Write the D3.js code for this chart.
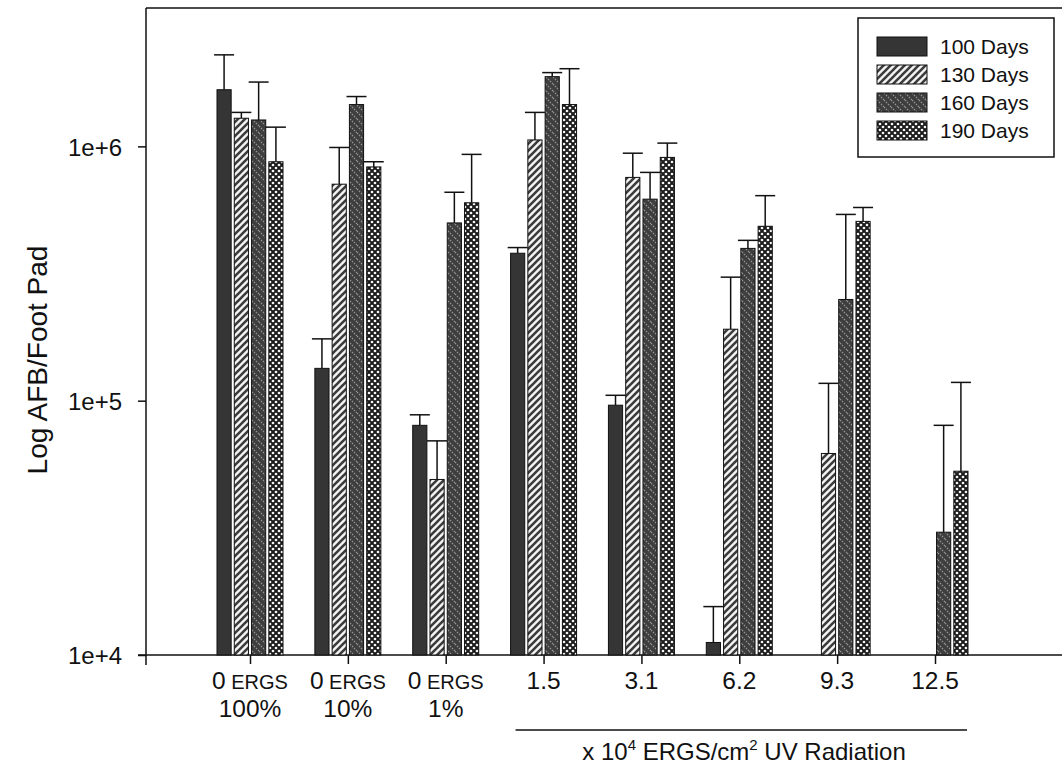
<!DOCTYPE html>
<html>
<head>
<meta charset="utf-8">
<script src="https://cdnjs.cloudflare.com/ajax/libs/d3/7.8.5/d3.min.js"></script>
<style>
    body { margin: 0; background: #fff; }
    svg { display: block; font-family: "Liberation Sans", Arial, sans-serif; }
    .axis path, .axis line { stroke: #111; stroke-width: 1.5px; }
    .axis text { fill: #111; }
</style>
</head>
<body>
<div id="chart"></div>
<script>
// Categories (x axis), two label lines each
var catMain = ["0", "0", "0", "1.5", "3.1", "6.2", "9.3", "12.5"];
var catUnit = ["ERGS", "ERGS", "ERGS", "", "", "", "", ""];
var catSub = ["100%", "10%", "1%", "", "", "", "", ""];
var categories = catMain.map(function(d, i) { return "c" + i; });

var series = ["100 Days", "130 Days", "160 Days", "190 Days"];

// bar heights (AFB / foot pad), null = no bar
var days100 = [1.67e6, 1.34e5, 8.0e4, 3.8e5, 9.6e4, 1.12e4, null, null];
var days130 = [1.29e6, 7.1e5, 4.9e4, 1.06e6, 7.55e5, 1.91e5, 6.2e4, null];
var days160 = [1.27e6, 1.46e6, 5.0e5, 1.88e6, 6.2e5, 3.97e5, 2.5e5, 3.04e4];
var days190 = [8.7e5, 8.3e5, 6.0e5, 1.46e6, 9.05e5, 4.85e5, 5.07e5, 5.28e4];

// tops of the error bars
var err100 = [2.29e6, 1.75e5, 8.8e4, 4.0e5, 1.05e5, 1.55e4, null, null];
var err130 = [1.36e6, 9.9e5, 6.95e4, 1.36e6, 9.4e5, 3.06e5, 1.17e5, null];
var err160 = [1.79e6, 1.57e6, 6.6e5, 1.95e6, 7.9e5, 4.27e5, 5.4e5, 8.0e4];
var err190 = [1.19e6, 8.7e5, 9.3e5, 2.02e6, 1.03e6, 6.4e5, 5.75e5, 1.18e5];

var yTicks = [1e4, 1e5, 1e6];
var yTickLabels = ["1e+4", "1e+5", "1e+6"];

var values = [days100, days130, days160, days190];
var errors = [err100, err130, err160, err190];
var patternIds = ["p100", "p130", "p160", "p190"];

var width = 1062, height = 777;

var svg = d3.select("#chart").append("svg")
    .attr("width", width)
    .attr("height", height);

// Fill patterns
var defs = svg.append("defs");

defs.append("pattern").attr("id", "p100")
    .attr("patternUnits", "userSpaceOnUse").attr("width", 4).attr("height", 4)
    .append("rect").attr("width", 4).attr("height", 4).attr("fill", "#353535");

var p130 = defs.append("pattern").attr("id", "p130")
    .attr("patternUnits", "userSpaceOnUse").attr("width", 7).attr("height", 7);
p130.append("rect").attr("width", 7).attr("height", 7).attr("fill", "#f4f4f4");
p130.append("path")
    .attr("d", "M-2,2 L2,-2 M0,7 L7,0 M5,9 L9,5")
    .attr("stroke", "#3c3c3c").attr("stroke-width", 2.6);

var p160 = defs.append("pattern").attr("id", "p160")
    .attr("patternUnits", "userSpaceOnUse").attr("width", 7).attr("height", 7);
p160.append("rect").attr("width", 7).attr("height", 7).attr("fill", "#3e3e3e");
p160.append("path")
    .attr("d", "M-2,5 L2,9 M0,0 L7,7 M5,-2 L9,2")
    .attr("stroke", "#9a9a9a").attr("stroke-width", 1.1)
    .attr("stroke-dasharray", "1.5,1.3");

var p190 = defs.append("pattern").attr("id", "p190")
    .attr("patternUnits", "userSpaceOnUse").attr("width", 6).attr("height", 6);
p190.append("rect").attr("width", 6).attr("height", 6).attr("fill", "#1c1c1c");
[[0, 0], [6, 0], [0, 6], [6, 6], [3, 3]].forEach(function(c) {
    p190.append("circle").attr("cx", c[0]).attr("cy", c[1]).attr("r", 1.35).attr("fill", "#f4f4f4");
});

// Scales
var y = d3.scaleLog()
    .domain([1e4, 3.5e6])
    .range([655, 8]);

var x = d3.scalePoint()
    .domain(categories)
    .range([250, 935]);

var xInner = d3.scaleBand()
    .domain(series)
    .range([-33, 33])
    .paddingInner(0.18);

// frame: top line
svg.append("line")
    .attr("x1", 146).attr("x2", width)
    .attr("y1", 8).attr("y2", 8)
    .attr("stroke", "#111").attr("stroke-width", 1.5);

// y axis
var yAxis = svg.append("g")
    .attr("class", "axis")
    .attr("transform", "translate(146,0)")
    .call(d3.axisLeft(y)
        .tickValues(yTicks)
        .tickFormat(function(d, i) { return yTickLabels[i]; })
        .tickSize(8)
        .tickSizeOuter(0)
        .tickPadding(16));
yAxis.select(".domain").attr("d", "M0,8 V665");
yAxis.selectAll("text").style("font-size", "24px").attr("dy", "0.36em");

// x axis
var xAxis = svg.append("g")
    .attr("class", "axis")
    .attr("transform", "translate(0,655)")
    .call(d3.axisBottom(x).tickSize(9).tickSizeOuter(0).tickFormat(""));
xAxis.select(".domain").attr("d", "M138,0 H" + width);

var labels = svg.append("g").selectAll("text")
    .data(categories)
    .enter()
    .append("text")
    .attr("text-anchor", "middle")
    .attr("fill", "#111")
    .style("font-size", "24.5px");

labels.append("tspan")
    .attr("x", function(d) { return x(d); })
    .attr("y", 689)
    .text(function(d, i) { return catMain[i]; })
    .append("tspan")
    .style("font-size", "20px")
    .text(function(d, i) { return catUnit[i] ? " " + catUnit[i] : ""; });

labels.append("tspan")
    .attr("x", function(d) { return x(d); })
    .attr("y", 717)
    .text(function(d, i) { return catSub[i]; });

// Bars
series.forEach(function(s, si) {
    var g = svg.append("g");
    var rows = categories.map(function(c, ci) {
        return {cat: c, v: values[si][ci], e: errors[si][ci]};
    }).filter(function(d) { return d.v != null; });

    g.selectAll("line.err")
        .data(rows)
        .enter()
        .append("line")
        .attr("x1", function(d) { return x(d.cat) + xInner(s) + xInner.bandwidth() / 2; })
        .attr("x2", function(d) { return x(d.cat) + xInner(s) + xInner.bandwidth() / 2; })
        .attr("y1", function(d) { return y(d.v); })
        .attr("y2", function(d) { return y(d.e); })
        .attr("stroke", "#111").attr("stroke-width", 1.5);

    g.selectAll("line.cap")
        .data(rows)
        .enter()
        .append("line")
        .attr("x1", function(d) { return x(d.cat) + xInner(s) + xInner.bandwidth() / 2 - 10; })
        .attr("x2", function(d) { return x(d.cat) + xInner(s) + xInner.bandwidth() / 2 + 10; })
        .attr("y1", function(d) { return y(d.e); })
        .attr("y2", function(d) { return y(d.e); })
        .attr("stroke", "#111").attr("stroke-width", 1.5);

    g.selectAll("rect")
        .data(rows)
        .enter()
        .append("rect")
        .attr("x", function(d) { return x(d.cat) + xInner(s); })
        .attr("y", function(d) { return y(d.v); })
        .attr("width", xInner.bandwidth())
        .attr("height", function(d) { return y(1e4) - y(d.v); })
        .attr("fill", "url(#" + patternIds[si] + ")")
        .attr("stroke", "#111").attr("stroke-width", 1);
});

// Y axis title
svg.append("text")
    .attr("transform", "translate(47,360) rotate(-90)")
    .attr("text-anchor", "middle")
    .attr("fill", "#111")
    .style("font-size", "28px")
    .text("Log AFB/Foot Pad");

// bracket line and x title under the UV doses
svg.append("line")
    .attr("x1", x("c3") - 28).attr("x2", x("c7") + 32)
    .attr("y1", 730).attr("y2", 730)
    .attr("stroke", "#111").attr("stroke-width", 1.3);

var xt = svg.append("text")
    .attr("x", 744).attr("y", 760)
    .attr("text-anchor", "middle")
    .attr("fill", "#111")
    .style("font-size", "24px");
xt.append("tspan").text("x 10");
xt.append("tspan").attr("dy", -10).style("font-size", "15px").text("4");
xt.append("tspan").attr("dy", 10).text(" ERGS/cm");
xt.append("tspan").attr("dy", -10).style("font-size", "15px").text("2");
xt.append("tspan").attr("dy", 10).text(" UV Radiation");

// Legend
var legend = svg.append("g");
legend.append("rect")
    .attr("x", 858).attr("y", 18)
    .attr("width", 196).attr("height", 139)
    .attr("fill", "#fff")
    .attr("stroke", "#111").attr("stroke-width", 1.5);

var items = legend.selectAll("g.item")
    .data(series)
    .enter()
    .append("g")
    .attr("transform", function(d, i) { return "translate(877," + (37 + i * 28) + ")"; });

items.append("rect")
    .attr("width", 50).attr("height", 19)
    .attr("fill", function(d, i) { return "url(#" + patternIds[i] + ")"; })
    .attr("stroke", "#111").attr("stroke-width", 1);

items.append("text")
    .attr("x", 63).attr("y", 17)
    .attr("fill", "#111")
    .style("font-size", "21px")
    .text(function(d) { return d; });
</script>
</body>
</html>
